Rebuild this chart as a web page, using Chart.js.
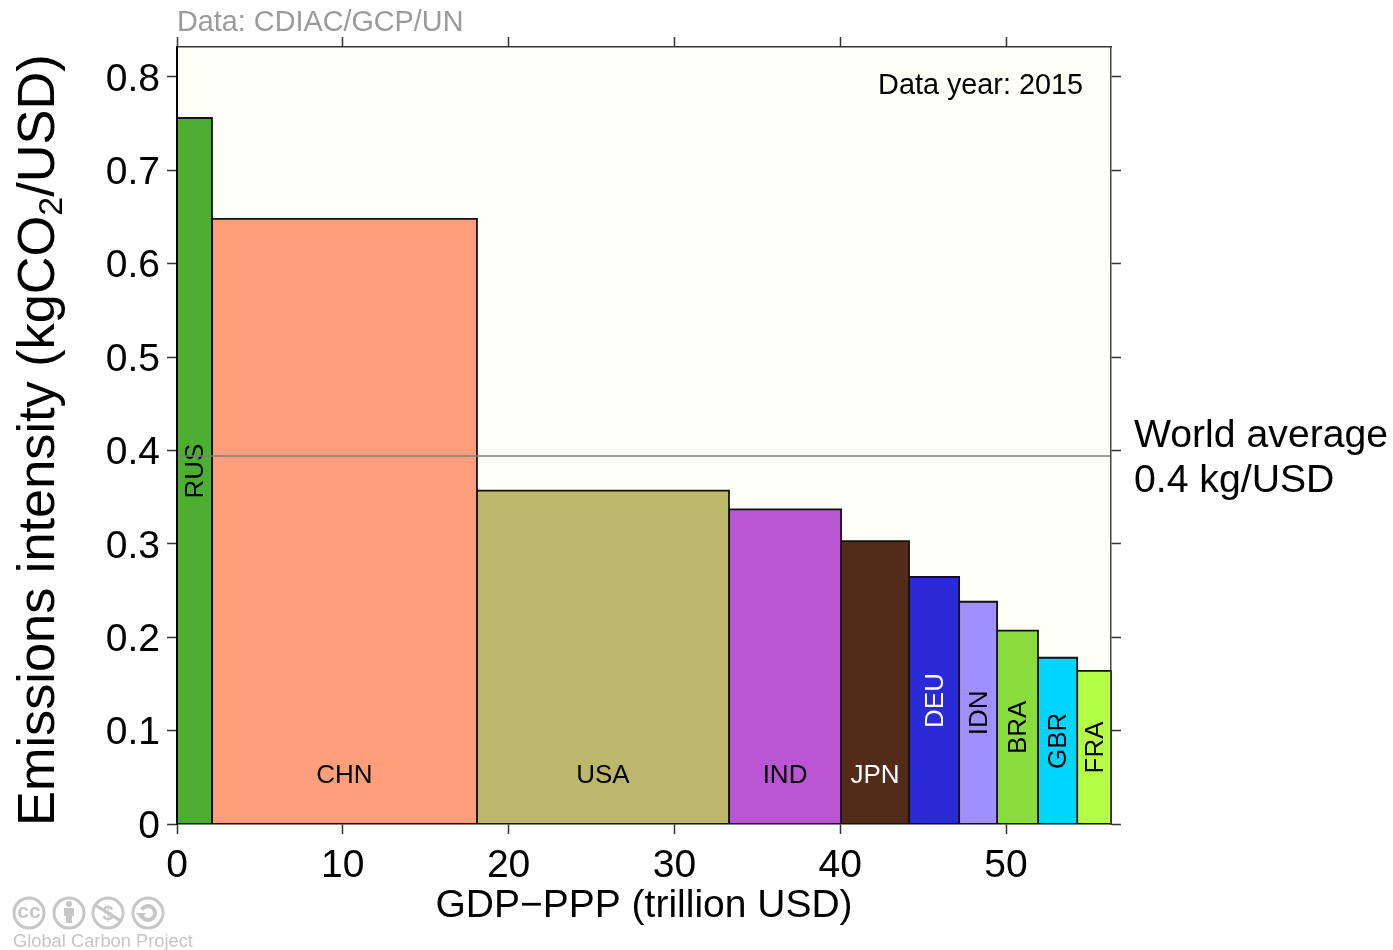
<!DOCTYPE html>
<html>
<head>
<meta charset="utf-8">
<title>Emissions intensity</title>
<script src="https://cdn.jsdelivr.net/npm/chart.js@4"></script>
<style>
  html, body { margin: 0; padding: 0; background: #fff; }
  canvas { display: block; }
</style>
</head>
<body>
<canvas id="intensity" width="1393" height="950"></canvas>
<script>
const countries = ['RUS', 'CHN', 'USA', 'IND', 'JPN', 'DEU', 'IDN', 'BRA', 'GBR', 'FRA'];
const gdpPpp = [2.11, 15.98, 15.2, 6.76, 4.1, 3.02, 2.29, 2.47, 2.36, 2.04];
const intensity = [0.756, 0.648, 0.357, 0.337, 0.303, 0.2645, 0.238, 0.207, 0.178, 0.164];
const worldAverage = 0.394;
const xTicks = [0, 10, 20, 30, 40, 50];
const yTicks = [0, 0.1, 0.2, 0.3, 0.4, 0.5, 0.6, 0.7, 0.8];

const barColors = ['#4DAF32', '#FF9E7A', '#BDB76B', '#BA55D3', '#522B19', '#2A2AD6', '#9F8FFF', '#8ADC3C', '#00D5FF', '#B4FF45'];
const whiteLabels = ['JPN', 'DEU'];

const xMax = 56.33;
const yMax = 0.832;
const font = '"Liberation Sans", Arial, sans-serif';

// running total gives the left and right edge of every bar
let edges = [0];
gdpPpp.forEach(function (w, i) { edges.push(edges[i] + w); });

let datasets = [{
  id: 'world',
  order: 0,
  data: [{ x: 0, y: worldAverage }, { x: xMax, y: worldAverage }],
  showLine: true,
  borderColor: '#7d7d7d',
  borderWidth: 1.6,
  pointRadius: 0,
  fill: false
}];

countries.forEach(function (c, i) {
  datasets.push({
    label: c,
    order: 1,
    data: [
      { x: edges[i], y: 0 },
      { x: edges[i], y: intensity[i] },
      { x: edges[i + 1], y: intensity[i] },
      { x: edges[i + 1], y: 0 }
    ],
    showLine: true,
    borderColor: '#111',
    borderWidth: 1.8,
    backgroundColor: barColors[i],
    fill: 'origin',
    pointRadius: 0,
    clip: false
  });
});

function text(ctx, str, x, y, size, color, align, rotate) {
  ctx.save();
  ctx.translate(x, y);
  if (rotate) ctx.rotate(-Math.PI / 2);
  ctx.font = size + 'px ' + font;
  ctx.fillStyle = color;
  ctx.textAlign = align || 'left';
  ctx.textBaseline = 'middle';
  ctx.fillText(str, 0, 0);
  ctx.restore();
}

function yTitle(ctx) {
  const parts = [['Emissions intensity (kgCO', 52.3], ['2', 34], ['/USD)', 52.3]];
  ctx.save();
  ctx.translate(54, 826);
  ctx.rotate(-Math.PI / 2);
  ctx.fillStyle = '#000';
  ctx.textBaseline = 'alphabetic';
  let at = 0;
  parts.forEach(function (p, i) {
    ctx.font = p[1] + 'px ' + font;
    ctx.fillText(p[0], at, i === 1 ? 8 : 0);
    at += ctx.measureText(p[0]).width;
  });
  ctx.restore();
}

function ring(ctx, x, y) {
  ctx.beginPath();
  ctx.arc(x, y, 15, 0, Math.PI * 2);
  ctx.stroke();
}

function ccBadges(ctx) {
  const grey = '#c6c6c6';
  ctx.save();
  ctx.strokeStyle = grey;
  ctx.fillStyle = grey;
  ctx.lineWidth = 3;
  ring(ctx, 29, 913);
  ring(ctx, 69, 913);
  ring(ctx, 108, 913);
  ring(ctx, 148, 913);
  text(ctx, 'cc', 29, 912, 'bold 21', grey, 'center');
  // person
  ctx.beginPath();
  ctx.arc(69, 904, 3, 0, Math.PI * 2);
  ctx.fill();
  ctx.fillRect(64, 908, 10, 8);
  ctx.fillRect(66, 914, 6, 9);
  // no dollar
  text(ctx, '$', 108, 914, 'bold 20', grey, 'center');
  ctx.beginPath();
  ctx.moveTo(95, 905);
  ctx.lineTo(121, 921);
  ctx.stroke();
  // share alike
  ctx.lineWidth = 4;
  ctx.beginPath();
  ctx.arc(148, 913, 7, -Math.PI * 0.85, Math.PI * 0.85);
  ctx.stroke();
  ctx.beginPath();
  ctx.moveTo(136, 913);
  ctx.lineTo(146, 913);
  ctx.lineTo(141, 919);
  ctx.fill();
  ctx.restore();
  text(ctx, 'Global Carbon Project', 13, 942, 18.3, '#c6c6c6');
}

const paperPlugin = {
  id: 'paper',
  beforeDraw: function (chart) {
    const a = chart.chartArea;
    chart.ctx.fillStyle = '#FFFEF7';
    chart.ctx.fillRect(a.left, a.top, a.right - a.left, a.bottom - a.top);
  },
  // bar labels go under the world average line
  beforeDatasetDraw: function (chart, args) {
    if (args.index !== 0) return;
    const sx = chart.scales.x, sy = chart.scales.y;
    countries.forEach(function (c, i) {
      const cx = sx.getPixelForValue((edges[i] + edges[i + 1]) / 2);
      const color = whiteLabels.includes(c) ? '#fff' : '#000';
      if (gdpPpp[i] > 3.5) {
        text(chart.ctx, c, cx, sy.getPixelForValue(0.0535) + 2, 26, color, 'center');
      } else {
        text(chart.ctx, c, cx + 1.5, sy.getPixelForValue(intensity[i] / 2), 26, color, 'center', true);
      }
    });
  },
  afterDraw: function (chart) {
    const ctx = chart.ctx;
    text(ctx, 'Data: CDIAC/GCP/UN', 177, 23, 28.8, '#9b9b9b');
    text(ctx, 'Data year: 2015', 1083, 86, 28.8, '#000', 'right');
    text(ctx, 'World average', 1134, 436, 39.2, '#000');
    text(ctx, '0.4 kg/USD', 1134, 481, 39.2, '#000');
    yTitle(ctx);
    ccBadges(ctx);
  }
};

const tickMarks = { drawOnChartArea: false, drawTicks: true, tickLength: 10, tickWidth: 1.5, tickColor: '#333' };

new Chart(document.getElementById('intensity'), {
  type: 'scatter',
  data: { datasets: datasets },
  plugins: [paperPlugin],
  options: {
    responsive: false,
    animation: false,
    layout: { padding: 0 },
    plugins: { legend: { display: false }, tooltip: { enabled: false } },
    scales: {
      x: {
        type: 'linear',
        position: 'bottom',
        min: 0,
        max: xMax,
        afterFit: function (s) { s.height = 126; },
        afterBuildTicks: function (s) { s.ticks = xTicks.map(function (v) { return { value: v }; }); },
        border: { color: '#111', width: 1.5, z: 1 },
        grid: tickMarks,
        title: {
          display: true,
          text: 'GDP\u2212PPP (trillion USD)',
          color: '#000',
          font: { family: font, size: 39 },
          padding: { top: 0, bottom: 20 }
        },
        ticks: {
          color: '#000',
          font: { family: font, size: 39 },
          padding: 9,
          maxRotation: 0,
          autoSkip: false,
          callback: function (v) { return String(v); }
        }
      },
      xTop: {
        type: 'linear',
        position: 'top',
        min: 0,
        max: xMax,
        afterFit: function (s) { s.height = 47; },
        afterBuildTicks: function (s) { s.ticks = xTicks.map(function (v) { return { value: v }; }); },
        border: { color: '#333', width: 1.5, z: 1 },
        grid: tickMarks,
        ticks: { display: false }
      },
      y: {
        type: 'linear',
        position: 'left',
        min: 0,
        max: yMax,
        afterFit: function (s) { s.width = 177; },
        afterBuildTicks: function (s) { s.ticks = yTicks.map(function (v) { return { value: v }; }); },
        border: { color: '#000', width: 2, z: 1 },
        grid: tickMarks,
        ticks: {
          color: '#000',
          font: { family: font, size: 39 },
          padding: 7,
          labelOffset: 3,
          autoSkip: false,
          callback: function (v) { return v === 0 ? '0' : v.toFixed(1); }
        }
      },
      yRight: {
        type: 'linear',
        position: 'right',
        min: 0,
        max: yMax,
        afterFit: function (s) { s.width = 282; },
        afterBuildTicks: function (s) { s.ticks = yTicks.map(function (v) { return { value: v }; }); },
        border: { color: '#444', width: 1.5, z: 1 },
        grid: tickMarks,
        ticks: { display: false }
      }
    }
  }
});
</script>
</body>
</html>
